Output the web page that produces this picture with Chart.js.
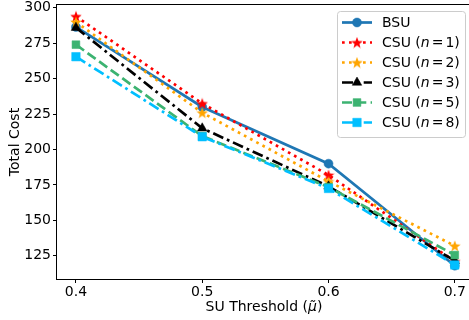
<!DOCTYPE html>
<html>
<head>
<meta charset="utf-8">
<script src="https://cdn.jsdelivr.net/npm/chart.js@4/dist/chart.umd.min.js"></script>
<style>
  html, body { margin: 0; padding: 0; background: #fff; }
  #wrap { width: 469px; height: 320px; overflow: hidden; position: relative; }
  canvas { display: block; }
</style>
</head>
<body>
<div id="wrap"><canvas id="cost-chart" width="476" height="320"></canvas></div>
<script>
// SU threshold values on the x axis
const thresholds = [0.4, 0.5, 0.6, 0.7]
const xTicks = [0.4, 0.5, 0.6, 0.7]
const yTicks = [125, 150, 175, 200, 225, 250, 275, 300]

// Total cost per strategy
const bsu = [286.5, 230, 190, 118]
const csuN1 = [294, 232.5, 182, 121]
const csuN2 = [290, 226, 177.5, 132]
const csuN3 = [286, 215, 174, 121.5]
const csuN5 = [274, 209.5, 173.5, 125.5]
const csuN8 = [265.5, 209, 172.5, 118.5]

const seriesNames = ['BSU', 'CSU (n = 1)', 'CSU (n = 2)', 'CSU (n = 3)', 'CSU (n = 5)', 'CSU (n = 8)']
const seriesValues = [bsu, csuN1, csuN2, csuN3, csuN5, csuN8]

const FONT = '"DejaVu Sans", sans-serif'

// filled star marker as an image, Chart.js' own 'star' is only an asterisk
function starImage(color, size) {
  const c = document.createElement('canvas')
  c.width = size
  c.height = size
  const ctx = c.getContext('2d')
  const cx = size / 2, cy = size / 2 + 0.6
  const R = size / 2, r = R * 0.42
  ctx.beginPath()
  for (let i = 0; i < 10; i++) {
    const rad = i % 2 === 0 ? R : r
    const a = -Math.PI / 2 + i * Math.PI / 5
    ctx.lineTo(cx + rad * Math.cos(a), cy + rad * Math.sin(a))
  }
  ctx.closePath()
  ctx.fillStyle = color
  ctx.fill()
  return c
}

const styles = [
  { color: '#1f77b4', dash: [], point: 'circle', radius: 4.5 },
  { color: '#ff0000', dash: [2.7, 4.3], point: starImage('#ff0000', 12), radius: 6 },
  { color: '#ffa500', dash: [2.7, 4.3], point: starImage('#ffa500', 12), radius: 6 },
  { color: '#000000', dash: [11, 4, 2.7, 4], point: 'triangle', radius: 5.5 },
  { color: '#3cb371', dash: [10, 4.3], point: 'rect', radius: 5.5 },
  { color: '#00bfff', dash: [11, 4, 2.7, 4], point: 'rect', radius: 6 }
]

const datasets = seriesValues.map((vals, i) => {
  const s = styles[i]
  return {
    label: seriesNames[i],
    data: vals.map((v, j) => ({ x: thresholds[j], y: v })),
    borderColor: s.color,
    backgroundColor: s.color,
    borderWidth: 2.7,
    borderDash: s.dash,
    borderCapStyle: 'butt',
    pointStyle: s.point,
    pointRadius: s.radius,
    pointBorderWidth: 0.5,
    pointBackgroundColor: s.color,
    pointBorderColor: s.color,
    tension: 0,
    order: seriesValues.length - i
  }
})

// spines, axis titles and a matplotlib-like legend
const decorations = {
  id: 'decorations',
  afterDraw(chart) {
    const ctx = chart.ctx
    const a = chart.chartArea
    ctx.save()
    ctx.strokeStyle = '#000'
    ctx.lineWidth = 1
    ctx.strokeRect(a.left - 0.5, a.top + 0.5, a.right - a.left + 0.5, a.bottom - a.top)

    // y title
    ctx.fillStyle = '#000'
    ctx.font = `14px ${FONT}`
    ctx.textAlign = 'center'
    ctx.textBaseline = 'middle'
    ctx.save()
    ctx.translate(15, 142)
    ctx.rotate(-Math.PI / 2)
    ctx.fillText('Total Cost', 0, 0)
    ctx.restore()

    // x title with italic mu
    const parts = [
      { t: 'SU Threshold (', f: `14px ${FONT}` },
      { t: 'μ̃', f: `italic 14px ${FONT}` },
      { t: ')', f: `14px ${FONT}` }
    ]
    drawParts(ctx, parts, 264, 307, 'center')

    // legend
    const box = { x: 337.5, y: 11.5, w: 128, h: 126 }
    ctx.fillStyle = 'rgba(255,255,255,0.8)'
    ctx.strokeStyle = '#cccccc'
    ctx.lineWidth = 1
    ctx.beginPath()
    ctx.roundRect(box.x, box.y, box.w, box.h, 3)
    ctx.fill()
    ctx.stroke()

    chart.data.datasets.forEach((ds, i) => {
      const y = 22.5 + i * 20
      ctx.save()
      ctx.strokeStyle = ds.borderColor
      ctx.lineWidth = ds.borderWidth
      ctx.setLineDash(ds.borderDash)
      ctx.lineCap = 'butt'
      ctx.beginPath()
      ctx.moveTo(342, y)
      ctx.lineTo(372, y)
      ctx.stroke()
      ctx.setLineDash([])
      ctx.fillStyle = ds.pointBackgroundColor
      ctx.strokeStyle = ds.pointBorderColor
      ctx.lineWidth = ds.pointBorderWidth
      Chart.helpers.drawPoint(ctx, { pointStyle: ds.pointStyle, radius: ds.pointRadius, rotation: 0, borderWidth: ds.pointBorderWidth }, 357, y)
      ctx.restore()

      ctx.fillStyle = '#000'
      const name = ds.label
      const m = name.match(/^(CSU \()n = (\d+\))$/)
      const lp = m
        ? [{ t: m[1], f: `14px ${FONT}` }, { t: 'n', f: `italic 14px ${FONT}`, gap: 2 }, { t: '=', f: `14px ${FONT}`, gap: 2 }, { t: m[2], f: `14px ${FONT}` }]
        : [{ t: name, f: `14px ${FONT}` }]
      drawParts(ctx, lp, 382, y + 0.5, 'left')
    })
    ctx.restore()
  }
}

function drawParts(ctx, parts, x, y, align) {
  ctx.textBaseline = 'middle'
  ctx.textAlign = 'left'
  let total = 0
  parts.forEach(p => { ctx.font = p.f; total += ctx.measureText(p.t).width + (p.gap || 0) })
  let cx = align === 'center' ? x - total / 2 : x
  parts.forEach(p => {
    ctx.font = p.f
    ctx.fillText(p.t, cx, y)
    cx += ctx.measureText(p.t).width + (p.gap || 0)
  })
}

// pin the plot area: no extra room for overflowing tick labels
function noPadding(scale) {
  scale.paddingTop = 0
  scale.paddingBottom = 0
  scale.paddingLeft = 0
  scale.paddingRight = 0
}

const config = {
  type: 'line',
  data: { datasets: datasets },
  options: {
    responsive: false,
    animation: false,
    devicePixelRatio: 1,
    layout: { autoPadding: false, padding: { top: 4, right: 1, left: 0, bottom: 0 } },
    scales: {
      x: {
        type: 'linear',
        min: 0.385,
        max: 0.716,
        afterBuildTicks: scale => { scale.ticks = xTicks.map(v => ({ value: v })) },
        afterFit: scale => { scale.height = 41; noPadding(scale) },
        ticks: {
          color: '#000',
          font: { family: FONT, size: 14 },
          padding: 1,
          maxRotation: 0,
          callback: v => v.toFixed(1)
        },
        grid: { drawOnChartArea: false, drawTicks: true, tickLength: 4, color: '#000', lineWidth: 1 },
        border: { display: false }
      },
      y: {
        type: 'linear',
        min: 108.6,
        max: 302.7,
        afterBuildTicks: scale => { scale.ticks = yTicks.map(v => ({ value: v })) },
        afterFit: scale => { scale.width = 57; noPadding(scale) },
        ticks: {
          color: '#000',
          font: { family: FONT, size: 14 },
          padding: 2,
          callback: v => String(v)
        },
        grid: { drawOnChartArea: false, drawTicks: true, tickLength: 4, color: '#000', lineWidth: 1 },
        border: { display: false }
      }
    },
    plugins: {
      legend: { display: false },
      tooltip: { enabled: false }
    }
  },
  plugins: [decorations]
}

new Chart(document.getElementById('cost-chart'), config)
</script>
</body>
</html>
